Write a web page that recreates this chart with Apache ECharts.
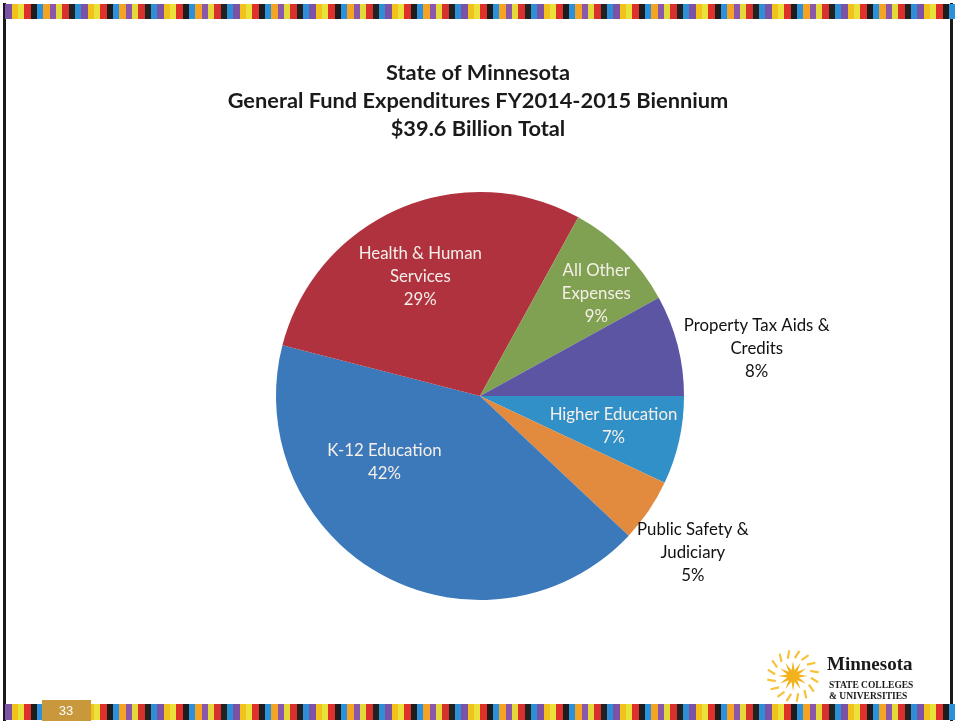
<!DOCTYPE html>
<html>
<head>
<meta charset="utf-8">
<title>Minnesota General Fund Expenditures FY2014-2015</title>
<script src="https://cdn.jsdelivr.net/npm/echarts@6/dist/echarts.min.js"></script>
<style>
  html, body { margin: 0; padding: 0; background: #ffffff; }
  #chart { width: 956px; height: 723px; }
</style>
</head>
<body>
<div id="chart"></div>
<script>
// Spending categories, clockwise from 3 o'clock
const categories = [
  'Higher Education',
  'Public Safety &\nJudiciary',
  'K-12 Education',
  'Health & Human\nServices',
  'All Other\nExpenses',
  'Property Tax Aids &\nCredits'
];
// Share of the biennium's $39.6 billion, percent
const shares = [7, 5, 42, 29, 9, 8];

const titleLines = [
  'State of Minnesota',
  'General Fund Expenditures FY2014-2015 Biennium',
  '$39.6 Billion Total'
];

// Slice appearance, same order as categories
const sliceColors = ['#3290c8', '#e28a3e', '#3b79bb', '#b0323f', '#7fa151', '#5b55a3'];
const labelInside = [true, false, true, true, true, false];
// Nudges applied to each label after the pie places it
const labelShift = [[31, 7], [126, 98], [-45, -26], [-18, -23], [42, -28], [175, -21]];

// Decorative slide border stripes
const stripeCycle = ['#7b52a6', '#f2c21b', '#e8e23a', '#e0302a', '#1d1d1d', '#2a92dc', '#f4a323', '#8a57ab', '#e4d93a', '#d8312d', '#222222', '#2f8fd6'];

function stripeRow(y, h) {
  const out = [];
  let x = 5, i = 0;
  while (x < 952) {
    const w = 6 + (i % 3 === 0 ? 1 : 0);
    out.push({
      type: 'rect', silent: true,
      shape: { x: x, y: y, width: w, height: h },
      style: { fill: stripeCycle[i % stripeCycle.length] }
    });
    x += w; i++;
  }
  return out;
}

function sunburst(cx, cy) {
  const pts = [];
  const n = 12;
  for (let k = 0; k < n * 2; k++) {
    const a = Math.PI * k / n;
    const r = k % 2 === 0 ? 15 : 6;
    pts.push([cx + r * Math.cos(a), cy + r * Math.sin(a)]);
  }
  const items = [{
    type: 'polygon', silent: true,
    shape: { points: pts },
    style: { fill: '#f3b21c' }
  }];
  for (let k = 0; k < 16; k++) {
    const a = Math.PI * 2 * k / 16 + 0.1;
    items.push({
      type: 'line', silent: true,
      shape: {
        x1: cx + 18 * Math.cos(a), y1: cy + 18 * Math.sin(a),
        x2: cx + 26 * Math.cos(a + 0.15), y2: cy + 26 * Math.sin(a + 0.15)
      },
      style: { stroke: '#f5c23a', lineWidth: 2.2 }
    });
  }
  return items;
}

const chart = echarts.init(document.getElementById('chart'), null, { renderer: 'canvas' });

const pieData = categories.map((name, i) => ({
  name: name,
  value: shares[i],
  itemStyle: { color: sliceColors[i] },
  label: labelInside[i]
    ? { color: '#f6efe9' }
    : { color: '#111111' }
}));

const graphics = []
  // frame lines
  .concat([
    { type: 'rect', silent: true, shape: { x: 3, y: 3, width: 3, height: 718 }, style: { fill: '#1a1a1a' } },
    { type: 'rect', silent: true, shape: { x: 950, y: 3, width: 3, height: 718 }, style: { fill: '#1a1a1a' } }
  ])
  .concat(stripeRow(4, 15))
  .concat(stripeRow(704, 16))
  .concat([
    { type: 'rect', silent: true, shape: { x: 42, y: 700, width: 49, height: 21 }, style: { fill: '#c9973c' } },
    { type: 'text', silent: true, x: 66, y: 711,
      style: { text: '33', fill: '#ffffff', font: '13px "Liberation Sans", Arial, sans-serif', align: 'center', verticalAlign: 'middle' } }
  ])
  .concat(sunburst(793, 676))
  .concat([
    { type: 'text', silent: true, x: 827, y: 665,
      style: { text: 'Minnesota', fill: '#1a1a1a', font: 'bold 19px "Liberation Serif", "DejaVu Serif", serif', verticalAlign: 'middle' } },
    { type: 'text', silent: true, x: 829, y: 686,
      style: { text: 'STATE COLLEGES', fill: '#1a1a1a', font: 'bold 9.5px "Liberation Serif", "DejaVu Serif", serif', verticalAlign: 'middle' } },
    { type: 'text', silent: true, x: 829, y: 697,
      style: { text: '& UNIVERSITIES', fill: '#1a1a1a', font: 'bold 9.5px "Liberation Serif", "DejaVu Serif", serif', verticalAlign: 'middle' } }
  ]);

chart.setOption({
  backgroundColor: '#ffffff',
  animation: false,
  title: {
    text: titleLines.join('\n'),
    left: 'center',
    top: 54,
    textStyle: {
      fontFamily: 'Lato, "Open Sans", sans-serif',
      fontWeight: 'bold',
      fontSize: 21.8,
      lineHeight: 28,
      color: '#1a1a1a'
    }
  },
  graphic: graphics,
  series: [{
    type: 'pie',
    center: [480, 396],
    radius: 204,
    startAngle: 0,
    clockwise: true,
    avoidLabelOverlap: false,
    data: pieData,
    itemStyle: { borderWidth: 0 },
    label: {
      show: true,
      position: 'inside',
      formatter: '{b}\n{c}%',
      fontFamily: 'Lato, "Open Sans", sans-serif',
      fontSize: 16.8,
      lineHeight: 23,
      align: 'center'
    },
    labelLine: { show: false },
    labelLayout: function (params) {
      const s = labelShift[params.dataIndex];
      return { dx: s[0], dy: s[1] };
    },
    emphasis: { disabled: true }
  }]
});
</script>
</body>
</html>
